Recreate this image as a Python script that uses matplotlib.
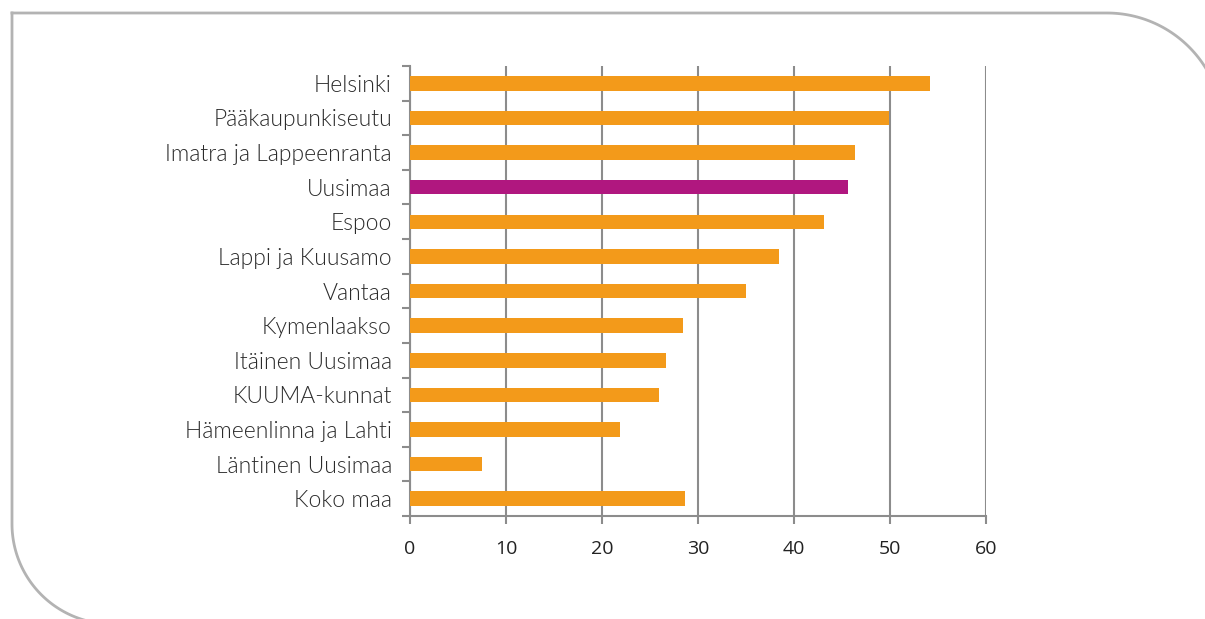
import matplotlib
matplotlib.use("Agg")
import matplotlib.pyplot as plt
import numpy as np
from matplotlib.lines import Line2D
from matplotlib.ticker import FixedLocator

categories = ["Helsinki", "Pääkaupunkiseutu", "Imatra ja Lappeenranta", "Uusimaa",
              "Espoo", "Lappi ja Kuusamo", "Vantaa", "Kymenlaakso", "Itäinen Uusimaa",
              "KUUMA-kunnat", "Hämeenlinna ja Lahti", "Läntinen Uusimaa", "Koko maa"]
values = [54.2, 49.9, 46.4, 45.6, 43.1, 38.4, 35.0, 28.4, 26.7, 25.9, 21.9, 7.5, 28.6]
highlight = "Uusimaa"
xticks = [0, 10, 20, 30, 40, 50, 60]

W, H = 1205, 619
fig = plt.figure(figsize=(W / 100, H / 100), dpi=100)
ax = fig.add_axes([410 / W, (H - 516) / H, 576 / W, 450 / H])

orange = "#F39A1A"
magenta = "#B0177F"
colors = [magenta if c == highlight else orange for c in categories]
y = np.arange(len(categories))
ax.barh(y, values, height=0.42, color=colors, zorder=3)

ax.set_xlim(0, 60)
ax.set_ylim(len(categories) - 0.5, -0.5)
ax.set_xticks(xticks)
ax.set_xticklabels([str(t) for t in xticks], fontsize=14, color="#222222",
                   family=["Open Sans", "DejaVu Sans"])
ax.set_yticks(y)
ax.set_yticklabels(categories, fontsize=16.5, color="#2b2b2b", fontweight=300,
                   family=["Lato", "DejaVu Sans"])
ax.tick_params(axis="y", length=0, pad=13)
ax.yaxis.set_minor_locator(FixedLocator(np.arange(len(categories) + 1) - 0.5))
ax.tick_params(axis="y", which="minor", length=6, color="#8c8c8c", width=1.5)
ax.tick_params(axis="x", length=6, color="#8c8c8c", width=1.5, pad=11)

ax.grid(axis="x", color="#8c8c8c", linewidth=1.5, zorder=0)
for side in ["top", "right"]:
    ax.spines[side].set_visible(False)
for side in ["left", "bottom"]:
    ax.spines[side].set_color("#8c8c8c")
    ax.spines[side].set_linewidth(1.5)

# decorative rounded frame (pixel coordinates)
left_x, top_y = 12, 13
r1 = 116
t1 = np.linspace(np.pi / 2, 0, 60)
top_arc_x = 1107 + r1 * np.cos(t1)
top_arc_y = (top_y + r1) - r1 * np.sin(t1)
fx = np.concatenate([[left_x], top_arc_x])
fy = np.concatenate([[top_y], top_arc_y])
r2 = 100
t2 = np.linspace(np.pi, 3 * np.pi / 2, 60)
bot_arc_x = (left_x + r2) + r2 * np.cos(t2)
bot_arc_y = 524 - r2 * np.sin(t2)
fx2 = np.concatenate([[left_x], bot_arc_x])
fy2 = np.concatenate([[top_y], bot_arc_y])
for xs, ys in [(fx, fy), (fx2, fy2)]:
    fig.add_artist(Line2D(xs / W, 1 - ys / H, transform=fig.transFigure,
                          color="#b3b3b3", linewidth=2))

fig.savefig("out.png", dpi=100)
